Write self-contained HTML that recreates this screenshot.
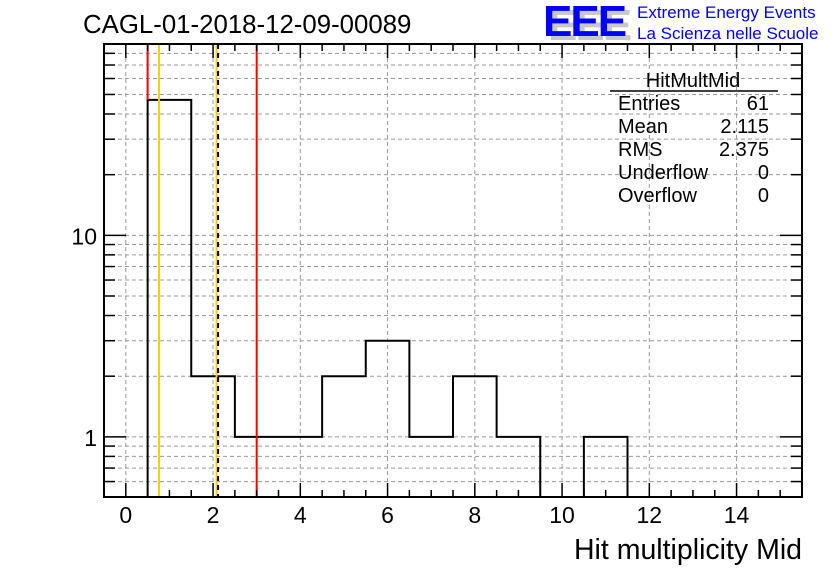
<!DOCTYPE html>
<html><head><meta charset="utf-8"><style>
body{margin:0;background:#fff}
svg text{font-family:"Liberation Sans",sans-serif}
</style></head><body>
<svg id="c" width="836" height="572" xmlns="http://www.w3.org/2000/svg">
<rect width="836" height="572" fill="#fff"/>
<g id="grid"></g><g id="marks"></g><g id="axes"></g>
<text x="83" y="33" font-size="25.8">CAGL-01-2018-12-09-00089</text>
<g>
<text x="548" y="40" font-size="44" font-weight="bold" fill="#c8c8c8" letter-spacing="-2">EEE</text>
<text x="543" y="36" font-size="44" font-weight="bold" fill="#0000ff" letter-spacing="-2">EEE</text>
<text x="637" y="18" font-size="17" fill="#0000ff">Extreme Energy Events</text>
<text x="637" y="39" font-size="17" fill="#0000ff">La Scienza nelle Scuole</text>
</g>
<g font-size="20">
<text x="693" y="87" text-anchor="middle">HitMultMid</text>
<line x1="610" y1="91" x2="778" y2="91" stroke="#000" stroke-width="1.5"/>
<text x="618" y="110">Entries</text><text x="769" y="110" text-anchor="end">61</text>
<text x="618" y="133">Mean</text><text x="769" y="133" text-anchor="end">2.115</text>
<text x="618" y="156">RMS</text><text x="769" y="156" text-anchor="end">2.375</text>
<text x="618" y="179">Underflow</text><text x="769" y="179" text-anchor="end">0</text>
<text x="618" y="202">Overflow</text><text x="769" y="202" text-anchor="end">0</text>
</g>
<text x="802" y="559" font-size="28.5" text-anchor="end">Hit multiplicity Mid</text>
</svg>
<script>
const binCenters=[0,1,2,3,4,5,6,7,8,9,10,11,12,13,14,15];
const counts=[0,47,2,1,1,2,3,1,2,1,0,1,0,0,0,0];
const xTicks=[0,2,4,6,8,10,12,14];
const yTickLabels=[1,10];
const vLines=[{v:0.5,c:"#ff0000",d:""},{v:0.76,c:"#ffcc00",d:""},{v:2.08,c:"#ffcc00",d:""},{v:2.115,c:"#000",d:"5,4"},{v:3.0,c:"#ff0000",d:""}];
const L=104,R=802,T=44,B=497,xmin=-0.5,xmax=15.5,ymin=0.503,ymax=89;
const X=v=>L+(v-xmin)/(xmax-xmin)*(R-L);
const Y=v=>B-(Math.log10(v)-Math.log10(ymin))/(Math.log10(ymax)-Math.log10(ymin))*(B-T);
const NS="http://www.w3.org/2000/svg";
function mk(p,t,a){const e=document.createElementNS(NS,t);for(const k in a)e.setAttribute(k,a[k]);p.appendChild(e);return e;}
const grid=document.getElementById('grid'),marks=document.getElementById('marks'),axes=document.getElementById('axes');
for(const t of xTicks){const g=mk(grid,'line',{x1:X(t),x2:X(t),y1:T,y2:B,stroke:'#999','stroke-dasharray':'4,3'});

}
const yMinor=[];
for(const d of [0.1,1,10]){for(let k=1;k<10;k++){const v=k*d;if(v>=ymin&&v<=ymax)yMinor.push(v);}}
for(const v of yMinor){const g=mk(grid,'line',{x1:L,x2:R,y1:Y(v),y2:Y(v),stroke:'#999','stroke-dasharray':'4,3'});

}
let d='';
for(let i=0;i<binCenters.length;i++){const x0=X(binCenters[i]-0.5),x1=X(binCenters[i]+0.5);const y=counts[i]>0?Y(counts[i]):B;
d+=(i==0?'M'+x0+','+B:'')+' L'+x0+','+y+' L'+x1+','+y;}
const h=mk(marks,'path',{d:d,fill:'none',stroke:'#000','stroke-width':2});


for(const l of vLines){const e=mk(marks,'line',{x1:X(l.v),x2:X(l.v),y1:T,y2:(l.v<1?Y(counts[1]):B),stroke:l.c,'stroke-width':2});if(l.d)e.setAttribute('stroke-dasharray',l.d);
if(l.v>0.6&&l.v<1)e.setAttribute('y2',B);

}
const fr=mk(axes,'rect',{x:L,y:T,width:R-L,height:B-T,fill:'none',stroke:'#000','stroke-width':2});


for(let v=0;v<=15;v+=0.5){const major=xTicks.includes(v);const len=major?14:7;
mk(axes,'line',{x1:X(v),x2:X(v),y1:B,y2:B-len,stroke:'#000','stroke-width':1.5});
mk(axes,'line',{x1:X(v),x2:X(v),y1:T,y2:T+len,stroke:'#000','stroke-width':1.5});}
for(const t of xTicks){const e=mk(axes,'text',{x:X(t),y:523,'font-size':23,'text-anchor':'middle'});e.textContent=t;

}
for(const v of yMinor){const major=yTickLabels.includes(v);const len=major?22:11;
mk(axes,'line',{x1:L,x2:L+len,y1:Y(v),y2:Y(v),stroke:'#000','stroke-width':1.5});
mk(axes,'line',{x1:R,x2:R-len,y1:Y(v),y2:Y(v),stroke:'#000','stroke-width':1.5});}
for(const t of yTickLabels){const e=mk(axes,'text',{x:97,y:Y(t)+9,'font-size':23,'text-anchor':'end'});e.textContent=t;

}
</script>
</body></html>
